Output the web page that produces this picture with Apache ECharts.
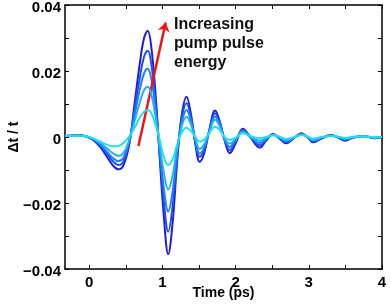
<!DOCTYPE html>
<html>
<head>
<meta charset="utf-8">
<script src="https://cdn.jsdelivr.net/npm/echarts@6/dist/echarts.min.js"></script>
<style>
html,body{margin:0;padding:0;background:#fff;}
#c{width:391px;height:304px;}
</style>
</head>
<body>
<div id="c"></div>
<script>
// ---- data ----
const time = [-0.33,-0.25,-0.15,-0.05,0.05,0.15,0.25,0.33,0.40,0.47,0.55,0.62,0.69,0.75,0.80,0.85,0.91,0.96,1.02,1.08,1.14,1.20,1.26,1.33,1.39,1.45,1.51,1.57,1.64,1.72,1.78,1.85,1.92,2.00,2.10,2.20,2.33,2.42,2.51,2.60,2.69,2.80,2.90,2.98,3.06,3.18,3.30,3.40,3.50,3.60,3.75,3.90,4.00];

const energy1 = [0.0003,0.0004,0.0006,0.0002,-0.0008,-0.003,-0.0062,-0.0088,-0.0098,-0.0085,-0.002,0.010,0.022,0.030,0.0322,0.027,0.012,-0.005,-0.024,-0.0355,-0.026,-0.008,0.006,0.0122,0.007,-0.002,-0.0075,-0.005,0.002,0.008,0.005,-0.001,-0.0049,-0.002,0.0025,0.0,-0.0032,-0.001,0.0009,-0.0004,-0.0019,-0.0003,0.0011,0.0,-0.0016,-0.0004,0.0006,-0.0002,-0.0011,-0.0002,0.0003,-0.0004,0.0];
const energy2 = [0.0003,0.0004,0.0005,0.0002,-0.0007,-0.0026,-0.0053,-0.0075,-0.0085,-0.0073,-0.0015,0.0082,0.0178,0.0243,0.0261,0.022,0.0098,-0.004,-0.0195,-0.0287,-0.021,-0.0065,0.005,0.0102,0.006,-0.0015,-0.006,-0.004,0.0018,0.0072,0.0045,-0.0008,-0.004,-0.0015,0.0022,0.0,-0.0025,-0.0008,0.0008,-0.0003,-0.0016,-0.0002,0.0009,0.0,-0.0013,-0.0003,0.0005,-0.0001,-0.0009,-0.0002,0.0003,-0.0003,0.0];
const energy3 = [0.0003,0.0004,0.0005,0.0002,-0.0006,-0.0022,-0.0046,-0.0065,-0.0073,-0.0062,-0.001,0.0066,0.0142,0.0193,0.0207,0.0175,0.0078,-0.003,-0.0155,-0.0226,-0.0165,-0.005,0.004,0.0082,0.005,-0.001,-0.005,-0.0033,0.0016,0.0062,0.004,-0.0006,-0.003,-0.001,0.0018,0.0,-0.0018,-0.0005,0.0007,-0.0002,-0.0013,-0.0002,0.0008,0.0,-0.0011,-0.0002,0.0005,0.0,-0.0007,-0.0001,0.0002,-0.0002,0.0];
const energy4 = [0.0003,0.0004,0.0005,0.0002,-0.0005,-0.0018,-0.0036,-0.005,-0.0057,-0.0048,-0.0008,0.0048,0.0104,0.0142,0.0152,0.0128,0.0058,-0.002,-0.0108,-0.0159,-0.0117,-0.0035,0.003,0.0061,0.0038,-0.0005,-0.0036,-0.0023,0.0014,0.0052,0.0034,-0.0003,-0.002,-0.0006,0.0015,0.0001,-0.0011,-0.0003,0.0006,-0.0001,-0.001,-0.0001,0.0007,0.0001,-0.0008,-0.0001,0.0004,0.0,-0.0005,-0.0001,0.0002,-0.0002,0.0];
const energy5 = [0.0003,0.0004,0.0004,0.0002,-0.0004,-0.0014,-0.0024,-0.0028,-0.0027,-0.0018,0.0002,0.0028,0.0058,0.0077,0.0082,0.0072,0.0035,-0.0005,-0.006,-0.0085,-0.0068,-0.0025,0.0012,0.0028,0.0018,0.0,-0.0014,-0.0008,0.0012,0.0031,0.0022,0.0,-0.0009,-0.0002,0.0011,0.0003,-0.0004,0.0,0.0005,0.0001,-0.0006,0.0,0.0006,0.0002,-0.0005,0.0,0.0003,0.0001,-0.0003,0.0,0.0002,-0.0001,0.0];

const seriesValues = [energy1, energy2, energy3, energy4, energy5];
const seriesColors = ['#1e1edc', '#1f4df0', '#2080f2', '#20b0f2', '#22def0'];

const xTickValues = [0,0.5,1,1.5,2,2.5,3,3.5,4];
const xLabelValues = [0,1,2,3,4];
const yLabelValues = [-0.04,-0.02,0,0.02,0.04];

const arrowStart = [0.673, -0.0027];
const arrowEnd = [1.045, 0.0347];
const annotationLines = ['Increasing', 'pump pulse', 'energy'];

// ---- chart ----
const chart = echarts.init(document.getElementById('c'), null, {renderer: 'canvas'});
const FONT = 'Liberation Sans, Arial, Helvetica, sans-serif';
const axisLine = {show: true, onZero: false, lineStyle: {color: '#000', width: 1.5}};

const series = seriesValues.map((vals, i) => ({
  type: 'line',
  data: time.map((t, k) => [t, vals[k]]),
  smooth: 0.4,
  showSymbol: false,
  lineStyle: {color: seriesColors[i], width: 2},
  itemStyle: {color: seriesColors[i]},
  z: 2 + i,
  silent: true,
  animation: false
}));

series.push({
  type: 'line',
  data: [],
  silent: true,
  animation: false,
  z: 10,
  markLine: {
    silent: true,
    animation: false,
    symbol: ['none', 'arrow'],
    symbolSize: 9,
    label: {show: false},
    lineStyle: {color: '#f01414', width: 2.5, type: 'solid'},
    data: [[{coord: arrowStart}, {coord: arrowEnd}]]
  }
});

chart.setOption({
  animation: false,
  backgroundColor: '#fff',
  grid: {left: 65, right: 9, top: 5, bottom: 35, containLabel: false, outerBoundsMode: 'none'},
  xAxis: [{
    type: 'value',
    min: -0.33, max: 4,
    position: 'bottom',
    axisLine: axisLine,
    axisTick: {show: true, inside: true, length: 4, customValues: xTickValues, lineStyle: {color: '#000', width: 1}},
    axisLabel: {customValues: xLabelValues, margin: 6, color: '#000', fontFamily: FONT, fontWeight: 'bold', fontSize: 15},
    splitLine: {show: false},
    name: 'Time (ps)',
    nameLocation: 'middle',
    nameGap: 17,
    nameMoveOverlap: false,
    nameTextStyle: {color: '#000', fontFamily: FONT, fontWeight: 'bold', fontSize: 14}
  }, {
    type: 'value',
    min: -0.33, max: 4,
    position: 'top',
    axisLine: axisLine,
    axisTick: {show: true, inside: true, length: 4, customValues: xTickValues, lineStyle: {color: '#000', width: 1}},
    axisLabel: {show: false},
    splitLine: {show: false}
  }],
  yAxis: [{
    type: 'value',
    min: -0.04, max: 0.04, interval: 0.01,
    position: 'left',
    axisLine: axisLine,
    axisTick: {show: true, inside: true, length: 4, lineStyle: {color: '#000', width: 1}},
    axisLabel: {
      customValues: yLabelValues, margin: 4, color: '#000',
      formatter: v => '{v|' + (v === 0 ? '0' : String(+v.toFixed(2)).replace('-', '\u2212')) + '}',
      rich: {v: {fontFamily: FONT, fontWeight: 'bold', fontSize: 15, color: '#000', padding: [5, 0, 0, 0]}}
    },
    splitLine: {show: false},
    name: '\u0394t / t',
    nameLocation: 'middle',
    nameGap: 44,
    nameRotate: 90,
    nameMoveOverlap: false,
    nameTextStyle: {color: '#000', fontFamily: FONT, fontWeight: 'bold', fontSize: 14}
  }, {
    type: 'value',
    min: -0.04, max: 0.04, interval: 0.01,
    position: 'right',
    axisLine: axisLine,
    axisTick: {show: true, inside: true, length: 4, lineStyle: {color: '#000', width: 1}},
    axisLabel: {show: false},
    splitLine: {show: false}
  }],
  graphic: [{
    type: 'text',
    left: 174,
    top: 15,
    silent: true,
    style: {
      text: annotationLines.join('\n'),
      fill: '#111',
      font: 'bold 16px ' + FONT,
      lineHeight: 19
    }
  }],
  series: series
});
</script>
</body>
</html>
